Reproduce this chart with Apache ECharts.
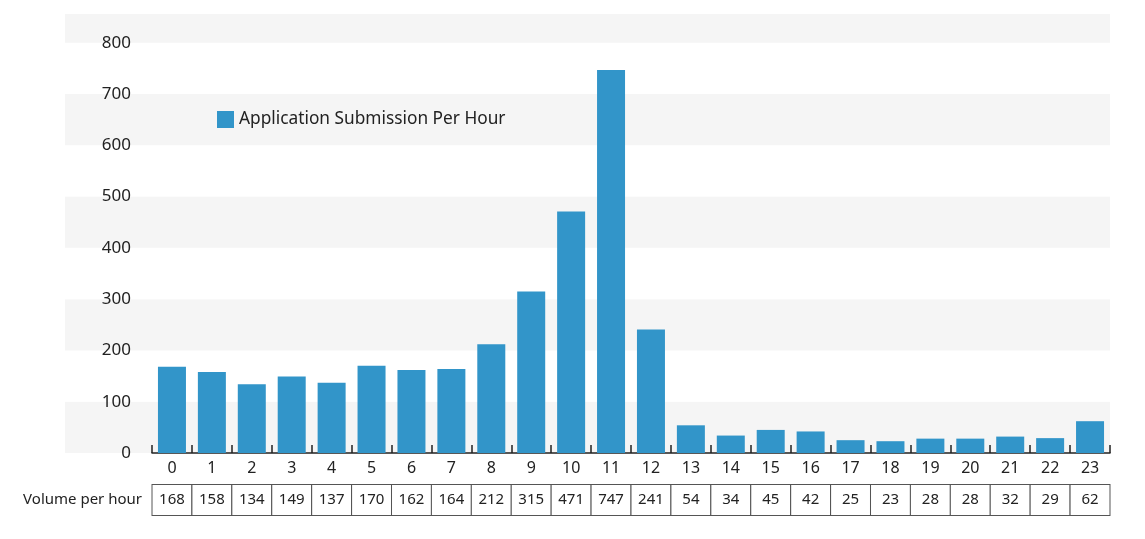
<!DOCTYPE html>
<html>
<head>
<meta charset="utf-8">
<script src="https://cdn.jsdelivr.net/npm/echarts@6/dist/echarts.min.js"></script>
<style>
html,body{margin:0;padding:0;background:#fff;}
#c{width:1145px;height:539px;}
</style>
</head>
<body>
<div id="c"></div>
<script>
const hours = ['0','1','2','3','4','5','6','7','8','9','10','11','12','13','14','15','16','17','18','19','20','21','22','23'];
const submissions = [168,158,134,149,137,170,162,164,212,315,471,747,241,54,34,45,42,25,23,28,28,32,29,62];
const seriesName = 'Application Submission Per Hour';
const tableLabel = 'Volume per hour';
const yMin = 0, yMax = 856, yStep = 100;

const FONT = 'Noto Sans';
const chart = echarts.init(document.getElementById('c'));
chart.setOption({
  animation: false,
  textStyle: {fontFamily: FONT},
  legend: {
    left: 212, top: 106, itemWidth: 17, itemHeight: 17, itemGap: 10,
    icon: 'rect',
    textStyle: {fontFamily: FONT, fontSize: 17.3, color: '#222'},
    data: [seriesName]
  },
  grid: [
    {left: 152, right: 35, top: 14, bottom: 86, containLabel: false},
    {left: 65, right: 35, top: 14, bottom: 86, containLabel: false, z: -1}
  ],
  xAxis: [
    {
      type: 'category', gridIndex: 0, data: hours,
      axisLine: {show: true, lineStyle: {color: '#222', width: 1.5}},
      axisTick: {show: true, inside: true, length: 8, alignWithLabel: false, lineStyle: {color: '#222', width: 1.5}},
      axisLabel: {interval: 0, margin: 7, fontFamily: FONT, fontSize: 16, color: '#222'},
      splitLine: {show: false}
    },
    {
      type: 'category', gridIndex: 0, data: submissions.map(String), position: 'bottom', offset: 47,
      axisLine: {show: false}, axisTick: {show: false},
      axisLabel: {
        interval: 0, margin: 0, verticalAlign: 'middle', align: 'center',
        fontFamily: FONT, fontSize: 15, color: '#222',
        width: 38.9, height: 30, lineHeight: 30,
        borderColor: '#555', borderWidth: 1, backgroundColor: '#fff'
      },
      name: tableLabel, nameLocation: 'start', nameGap: 10,
      nameTextStyle: {fontFamily: FONT, fontSize: 15, color: '#222', verticalAlign: 'middle', align: 'right'}
    },
    {type: 'value', gridIndex: 1, show: false, min: 0, max: 1}
  ],
  yAxis: [
    {
      type: 'value', gridIndex: 0, min: yMin, max: yMax, interval: yStep,
      axisLine: {show: false}, axisTick: {show: false},
      splitLine: {show: false}, splitArea: {show: false},
      axisLabel: {
        margin: 21, fontFamily: FONT, fontSize: 17, color: '#222',
        formatter: v => (v % yStep === 0 ? String(v) : '')
      }
    },
    {
      type: 'value', gridIndex: 1, min: yMin, max: yMax, interval: yStep,
      axisLine: {show: false}, axisTick: {show: false}, axisLabel: {show: false},
      splitLine: {show: false},
      splitArea: {show: true, areaStyle: {color: ['#f5f5f5', '#ffffff']}}
    }
  ],
  series: [{
    name: seriesName, type: 'bar', xAxisIndex: 0, yAxisIndex: 0,
    data: submissions, barWidth: 28,
    itemStyle: {color: '#3295c9'}
  }]
});
</script>
</body>
</html>
